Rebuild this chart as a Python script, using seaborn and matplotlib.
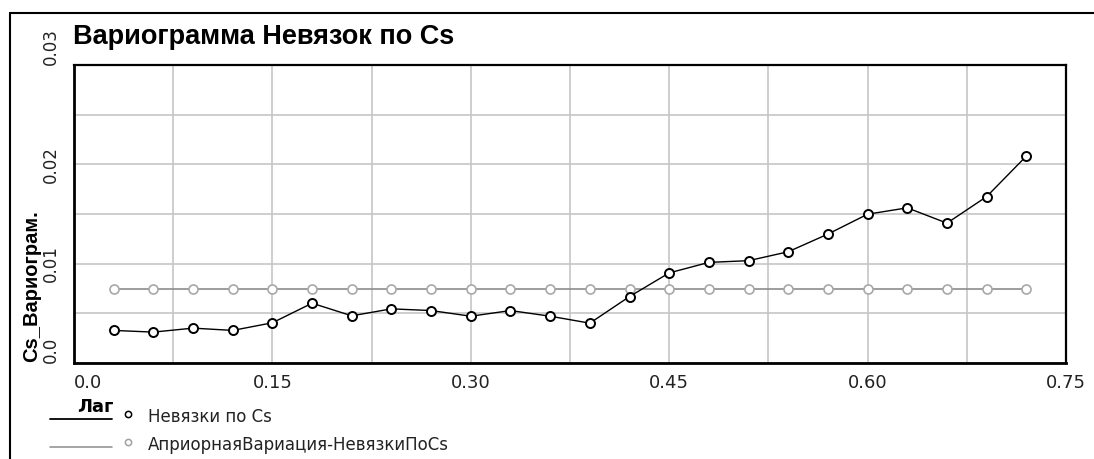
import numpy as np
import matplotlib
matplotlib.use("Agg")
import matplotlib.pyplot as plt
from matplotlib.lines import Line2D
import seaborn as sns

# Lag distances and variogram values
lags = [0.03, 0.06, 0.09, 0.12, 0.15, 0.18, 0.21, 0.24,
        0.27, 0.30, 0.33, 0.36, 0.39, 0.42, 0.45, 0.48,
        0.51, 0.54, 0.57, 0.60, 0.63, 0.66, 0.69, 0.72]
resid_vario = [0.00328, 0.00311, 0.00351, 0.00328, 0.00405, 0.00602, 0.00475, 0.00545,
               0.00528, 0.00471, 0.00528, 0.00471, 0.00401, 0.00669, 0.00907, 0.01013,
               0.01030, 0.01120, 0.01298, 0.01498, 0.01562, 0.01408, 0.01675, 0.02083]
apriori_vario = [0.00742, 0.00742, 0.00742, 0.00742, 0.00742, 0.00742, 0.00742, 0.00742,
                 0.00742, 0.00742, 0.00742, 0.00742, 0.00742, 0.00742, 0.00742, 0.00742,
                 0.00742, 0.00742, 0.00742, 0.00742, 0.00742, 0.00742, 0.00742, 0.00742]

series_names = ["Невязки по Cs", "АприорнаяВариация-НевязкиПоCs"]
title_text = "Вариограмма Невязок по Cs"
xlabel_text = "Лаг"
ylabel_text = "Cs_Вариограм."
xtick_vals = [0.0, 0.15, 0.30, 0.45, 0.60, 0.75]
xtick_labels = ["0.0", "0.15", "0.30", "0.45", "0.60", "0.75"]
ytick_vals = [0.0, 0.01, 0.02, 0.03]
ytick_labels = ["0.0", "0.01", "0.02", "0.03"]

sns.set_style("white")
plt.rcParams["font.family"] = ["DejaVu Sans"]
plt.rcParams["text.color"] = "black"
plt.rcParams["xtick.color"] = "black"
plt.rcParams["ytick.color"] = "black"

W, H = 1094, 459
fig = plt.figure(figsize=(W / 100, H / 100), dpi=100)


def fx(px):
    return px / W


def fy(py):
    return 1 - py / H


ax = fig.add_axes([fx(74), fy(363), fx(1066) - fx(74), fy(65) - fy(363)])

grey = "#8c8c8c"
sns.lineplot(x=lags, y=apriori_vario, ax=ax, color=grey, linewidth=1.2,
             marker="o", markersize=6.5, markerfacecolor="white",
             markeredgecolor="#a8a8a8", markeredgewidth=1.2, zorder=3)
sns.lineplot(x=lags, y=resid_vario, ax=ax, color="black", linewidth=1.0,
             marker="o", markersize=6.5, markerfacecolor="white",
             markeredgecolor="black", markeredgewidth=1.4, zorder=4)

ax.set_xlim(0, 0.75)
ax.set_ylim(0, 0.03)
ax.set_xticks(xtick_vals)
ax.set_xticklabels(xtick_labels, fontsize=13, color="#222222")
ax.set_yticks(ytick_vals)
ax.set_yticklabels(ytick_labels, fontsize=12, rotation=90, color="#222222")
ax.set_xticks(np.arange(0, 0.76, 0.075), minor=True)
ax.set_yticks(np.arange(0, 0.031, 0.005), minor=True)
ax.tick_params(which="minor", length=0)
ax.tick_params(which="major", direction="out", length=5, width=2.2, color="black", pad=3)
ax.tick_params(axis="y", which="major", pad=5)
ax.grid(which="both", color="#c6c6c6", linewidth=1.2)
ax.set_axisbelow(True)
ax.set_xlabel("")
ax.set_ylabel("")

xl = ax.get_xticklabels()
xl[0].set_ha("left")
yl = ax.get_yticklabels()
for t in yl:
    t.set_va("center")
    t.set_ha("right")
yl[0].set_va("bottom")
yl[-1].set_va("bottom")

for side, s in ax.spines.items():
    s.set_color("black")
    s.set_linewidth(1.6)
ax.spines["left"].set_linewidth(2.0)
ax.spines["bottom"].set_linewidth(2.0)

# Outer frame (left and top edges)
fig.add_artist(Line2D([fx(10), fx(10)], [fy(13), fy(470)], color="black", lw=1.5,
                      transform=fig.transFigure))
fig.add_artist(Line2D([fx(10), fx(1100)], [fy(13), fy(13)], color="black", lw=1.5,
                      transform=fig.transFigure))

# Title and axis labels
fig.text(fx(73), fy(44), title_text, fontsize=19.5, fontweight="bold", color="black",
         family=["Liberation Sans", "DejaVu Sans"], ha="left", va="baseline")
fig.text(fx(32), fy(362), ylabel_text, fontsize=14.5, fontweight="bold", color="black",
         family=["Liberation Sans", "DejaVu Sans"], rotation=90, ha="center", va="bottom")
fig.text(fx(95), fy(412), xlabel_text, fontsize=13, fontweight="bold", color="black",
         ha="center", va="baseline")

# Legend keys
legend_rows = [(series_names[0], "black", "black", 1.3, 419),
               (series_names[1], grey, "#a0a0a0", 1.1, 447)]
for name, lc, mc, lw, yy in legend_rows:
    fig.add_artist(Line2D([fx(50), fx(112)], [fy(yy), fy(yy)], color=lc, lw=lw,
                          transform=fig.transFigure))
    fig.add_artist(Line2D([fx(128)], [fy(yy - 5)], marker="o", markersize=4.5,
                          markerfacecolor="white", markeredgecolor=mc,
                          markeredgewidth=1.1, linestyle="none",
                          transform=fig.transFigure))
    fig.text(fx(148), fy(yy - 2), name, fontsize=12, color="#222222",
             ha="left", va="center")

fig.savefig("out.png", dpi=100, facecolor="white")
